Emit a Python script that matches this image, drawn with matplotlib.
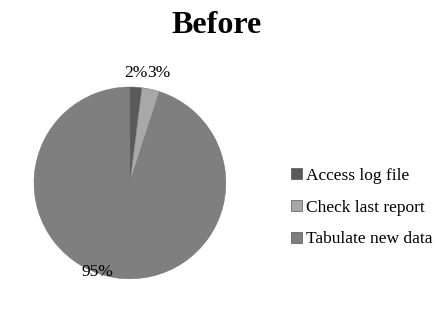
import matplotlib
matplotlib.use("Agg")
import matplotlib.pyplot as plt
from matplotlib.patches import Patch

# data
categories = ["Access log file", "Check last report", "Tabulate new data"]
values = [2, 3, 95]
colors = ["#5a5a5a", "#a8a8a8", "#7f7f7f"]

plt.rcParams['font.family'] = ['Liberation Serif', 'DejaVu Serif']

fig = plt.figure(figsize=(4.36, 3.35), dpi=100)
fig.text(0.497, 0.925, "Before", ha='center', va='center', fontsize=23, fontweight='bold')

ax = fig.add_axes([0.298 - 0.22, 0.454 - 0.2866, 0.44, 0.5732])
wedges, _ = ax.pie(values, colors=colors, startangle=90, counterclock=False,
                   wedgeprops=dict(edgecolor='#6a6a6a', linewidth=0.3))
ax.set_xlim(-1, 1)
ax.set_ylim(-1, 1)
ax.set_aspect('equal')

# percentage labels
ax.text(0.06, 1.15, "2%", ha='center', va='center', fontsize=12.5, clip_on=False)
ax.text(0.30, 1.15, "3%", ha='center', va='center', fontsize=12.5, clip_on=False)
ax.text(-0.34, -0.93, "95%", ha='center', va='center', fontsize=12.5)

handles = [Patch(facecolor=c, edgecolor='#555555', linewidth=0.5) for c in colors]
fig.legend(handles, categories, loc='center left', bbox_to_anchor=(0.632, 0.38),
           frameon=False, fontsize=12.5, handlelength=0.6, handleheight=0.6,
           handletextpad=0.25, labelspacing=0.9)

fig.savefig("out.png", dpi=100)
